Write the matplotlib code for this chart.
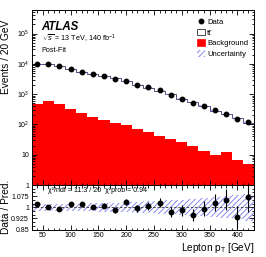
import numpy as np
import matplotlib
matplotlib.use("Agg")
import matplotlib.pyplot as plt
from matplotlib.ticker import FixedLocator, MultipleLocator, LogLocator, NullFormatter, FuncFormatter
from matplotlib.patches import Patch
from matplotlib.lines import Line2D

plt.rcParams['font.family'] = ['Liberation Sans', 'DejaVu Sans']
plt.rcParams['mathtext.fontset'] = 'custom'
plt.rcParams['mathtext.rm'] = 'Liberation Sans'
plt.rcParams['mathtext.it'] = 'Liberation Sans:italic'
plt.rcParams['mathtext.bf'] = 'Liberation Sans:bold'
plt.rcParams['hatch.linewidth'] = 0.6

# ---- data ----
bin_edges = np.arange(30, 431, 20)
data = [9780, 9900, 8410, 6850, 5470, 4700, 4045, 3222, 2773, 2046,
        1671, 1321, 942, 702, 526, 398, 292, 224, 150, 116]
data_err = [99, 99, 92, 83, 74, 69, 64, 57, 53, 45,
            41, 36, 31, 26.5, 23, 20, 17, 15, 12.2, 10.8]
ttbar = [9100, 9280, 8030, 6370, 5120, 4510, 3870, 3180, 2580, 1990,
         1600, 1240, 940, 690, 534, 389, 273, 201, 154, 104]
background = [458, 589, 458, 330, 231, 180, 135, 114, 93, 72,
              56, 41, 34, 26, 20, 12.8, 10, 12.1, 6.5, 4.8]
rel_unc = [0.022, 0.022, 0.022, 0.024, 0.025, 0.027, 0.029, 0.031, 0.034, 0.037,
           0.040, 0.044, 0.048, 0.052, 0.057, 0.062, 0.068, 0.074, 0.082, 0.090]

data = np.array(data, float)
data_err = np.array(data_err, float)
ttbar = np.array(ttbar, float)
background = np.array(background, float)
rel_unc = np.array(rel_unc, float)
centers = 0.5 * (bin_edges[:-1] + bin_edges[1:])
total = ttbar + background

W, H = 266, 257
fig = plt.figure(figsize=(W / 100, H / 100), dpi=100)
L, R = 31.7, 254.0
ax = fig.add_axes([L / W, (H - 185) / H, (R - L) / W, 175 / H])
rx = fig.add_axes([L / W, (H - 229.5) / H, (R - L) / W, 44.5 / H], sharex=ax)

hatch_col = '#7777ee'
# main panel
ax.stairs(background, bin_edges, baseline=1e-3, fill=True, color='#ff0000', lw=0)
ax.stairs(total, bin_edges, baseline=background, fill=True, facecolor='white',
          edgecolor='none', lw=0)
ax.stairs(total, bin_edges, baseline=None, color='#333366', lw=0.6)
ax.stairs(total * (1 + rel_unc), bin_edges, baseline=total * (1 - rel_unc), fill=True,
          facecolor='none', edgecolor=hatch_col, hatch='//////', lw=0)
ax.errorbar(centers, data, yerr=data_err, fmt='o', color='black', ms=3.2,
            elinewidth=0.8, capsize=0, zorder=5)
ax.set_yscale('log')
ax.set_xlim(30, 430)
ax.set_ylim(1, 6e5)


def logfmt(v, pos):
    e = int(round(np.log10(v)))
    if e == 0:
        return '1'
    if e == 1:
        return '10'
    return r'$10^{%d}$' % e


ax.yaxis.set_major_locator(FixedLocator([1, 10, 100, 1e3, 1e4, 1e5]))
ax.yaxis.set_major_formatter(FuncFormatter(logfmt))
ax.yaxis.set_minor_locator(LogLocator(base=10, subs=np.arange(2, 10), numticks=20))
ax.yaxis.set_minor_formatter(NullFormatter())
ax.set_ylabel('Events / 20 GeV', fontsize=7.3)
ax.yaxis.set_label_coords(-0.093, 0.73)
plt.setp(ax.get_xticklabels(), visible=False)

for a in (ax, rx):
    a.tick_params(which='both', direction='in', top=True, right=True, labelsize=5, pad=2,
                  width=0.6)
    a.tick_params(which='major', length=3.5)
    a.tick_params(which='minor', length=1.8)
    for s in a.spines.values():
        s.set_linewidth(0.7)
ax.xaxis.set_major_locator(MultipleLocator(50))
ax.xaxis.set_minor_locator(MultipleLocator(10))

ax.text(0.045, 0.905, 'ATLAS', transform=ax.transAxes, fontsize=8.3,
        fontweight='bold', fontstyle='italic', va='center')
ax.text(0.045, 0.835, r'$\sqrt{s}$ = 13 TeV, 140 fb$^{-1}$', transform=ax.transAxes,
        fontsize=5.2, va='center')
ax.text(0.045, 0.77, 'Post-Fit', transform=ax.transAxes, fontsize=5.2, va='center')

handles = [
    Line2D([], [], marker='o', color='black', ls='none', ms=3.2),
    Patch(facecolor='white', edgecolor='black', lw=0.5),
    Patch(facecolor='#ff0000', edgecolor='#ff0000', lw=0.5),
    Patch(facecolor='white', edgecolor=hatch_col, hatch='//////', lw=0),
]
labels = ['Data', 't\u0074\u0304', 'Background', 'Uncertainty']
ax.legend(handles, labels, loc='upper left', bbox_to_anchor=(0.745, 0.955), frameon=False,
          fontsize=5.5, handlelength=1.0, handleheight=1.0, handletextpad=0.3,
          labelspacing=0.35, borderpad=0, borderaxespad=0)

# ratio panel
ratio = data / total
ratio_err = data_err / total
rx.stairs(1 + rel_unc, bin_edges, baseline=1 - rel_unc, fill=True, facecolor='none',
          edgecolor=hatch_col, hatch='//////', lw=0)
rx.axhline(1, color='#333333', ls=(0, (3, 2)), lw=0.6)
rx.errorbar(centers, ratio, yerr=ratio_err, fmt='o', color='black', ms=3.2,
            elinewidth=0.8, capsize=0, zorder=5)
rx.set_ylim(0.85, 1.15)
rx.yaxis.set_major_locator(FixedLocator([0.85, 0.925, 1.0, 1.075, 1.15]))
rx.yaxis.set_minor_locator(MultipleLocator(0.025))
rx.yaxis.set_major_formatter(FuncFormatter(
    lambda v, p: '' if v > 1.1 else ('1' if abs(v - 1) < 1e-6 else ('%g' % v))))
rx.set_ylabel('Data / Pred.', fontsize=7.3)
rx.yaxis.set_label_coords(-0.093, 0.5)
rx.set_xlabel(r'Lepton p$_{\mathrm{T}}$ [GeV]', fontsize=7.2, loc='right', labelpad=1)
rx.text(0.075, 0.88, '\u03c7\u00b2/ndf = 11.3 / 20  \u03c7\u00b2prob = 0.94',
        transform=rx.transAxes, fontsize=5, va='center')

fig.savefig('out.png', dpi=100)
